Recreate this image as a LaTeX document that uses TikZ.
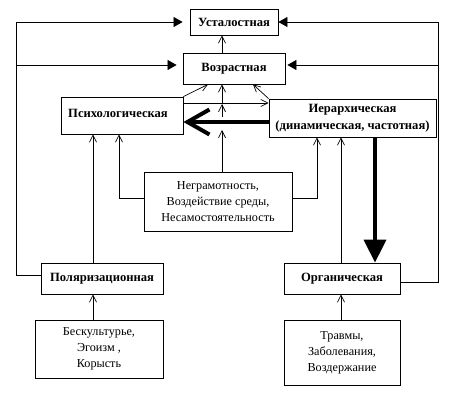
\documentclass[tikz,border=0pt]{standalone}
\usepackage{fontspec}
\setmainfont{Liberation Serif}
\usetikzlibrary{arrows.meta}
\begin{document}
\begin{tikzpicture}[x=1pt,y=-1pt,
  box/.style={draw, line width=0.8pt, inner sep=0pt, align=center, font=\fontsize{12.6}{17}\selectfont\bfseries},
  lst/.style={draw, line width=0.8pt, inner sep=0pt, align=center, font=\fontsize{12.2}{16}\selectfont},
  ln/.style={line width=0.7pt},
  arr/.style={ln, -{Straight Barb[length=7pt,width=7pt]}},
  tri/.style={ln, -{Triangle[length=9pt,width=10pt]}},
  thickarr/.style={line width=4pt, -{Straight Barb[length=22pt,width=25pt]}},
  thickdown/.style={line width=3.5pt, -{Triangle[length=23pt,width=22pt]}}
  ]
\useasboundingbox (0,0) rectangle (450,407);
% boxes
\node[box, minimum width=88pt, minimum height=26pt] (ust) at (234,22) {Усталостная};
\node[box, minimum width=102pt, minimum height=31pt] (voz) at (234,68.5) {Возрастная};
\node[box, minimum width=122pt, minimum height=37pt] (psy) at (122,115.5) {\raisebox{4pt}{Психологическая\hspace{8pt}}};
\node[box, minimum width=167pt, minimum height=38pt] (ier) at (352.5,118) {Иерархическая\\(динамическая, частотная)};
\node[lst, minimum width=148pt, minimum height=59pt] (neg) at (218,201.5) {Неграмотность,\\Воздействие среды,\\Несамостоятельность};
\node[box, minimum width=122pt, minimum height=31pt] (pol) at (102,278.5) {Поляризационная};
\node[box, minimum width=116pt, minimum height=31pt] (org) at (342,278.5) {Органическая};
\node[lst, minimum width=128pt, minimum height=58pt] (bes) at (99,349) {Бескультурье,\hspace{6pt}\\Эгоизм ,\hspace{12pt}\\Корысть\hspace{18pt}};
\node[lst, minimum width=116pt, minimum height=65pt] (tra) at (342,352.5) {Травмы,\\Заболевания,\\Воздержание};
% helper coordinates
\coordinate (LT) at (16,22); \coordinate (LM) at (16,65); \coordinate (LB) at (16,275);
\coordinate (RT) at (438,22); \coordinate (RM) at (438,65); \coordinate (RB) at (438,282);
\coordinate (xa) at (93,0); \coordinate (xb) at (119,0); \coordinate (xc) at (222,0);
\coordinate (xd) at (208,0); \coordinate (xe) at (253,0); \coordinate (xf) at (317,0);
\coordinate (xg) at (341,0); \coordinate (xh) at (375,0);
\coordinate (yh) at (0,103); \coordinate (yt) at (0,122); \coordinate (yn) at (0,198);
\coordinate (v1) at (222,130); \coordinate (v2) at (222,117); \coordinate (v3) at (222,104);
% outer lines
\draw[ln] (pol.west |- LB) -- (LB) -- (LT);
\draw[tri, shorten >=7pt] (LT) -- (ust.west);
\draw[tri, shorten >=6pt] (LM) -- (voz.west |- LM);
\draw[ln] (org.east |- RB) -- (RB) -- (RT);
\draw[tri] (RT) -- (ust.east);
\draw[tri, shorten >=2pt] (RM) -- (voz.east |- RM);
% central thin arrows
\draw[arr] (voz.north -| xc) -- (ust.south -| xc);
\draw[arr] (neg.north -| xc) -- (v1);
\draw[arr] (v2) -- (v3);
\draw[arr] (xc |- yh) -- (voz.south -| xc);
\draw[arr] (psy.north east) -- (voz.south -| xd);
\draw[arr] (ier.north west) -- (voz.south -| xe);
\draw[arr] (psy.east |- yh) -- (ier.west |- yh);
% thick arrows
\draw[thickarr] (ier.west |- yt) -- (psy.east |- yt);
\draw[thickdown] (ier.south -| xh) -- (org.north -| xh);
% side feeds
\draw[arr] (neg.west |- yn) -| (psy.south -| xb);
\draw[arr] (neg.east |- yn) -| (ier.south -| xf);
\draw[arr] (pol.north -| xa) -- (psy.south -| xa);
\draw[arr] (org.north -| xg) -- (ier.south -| xg);
\draw[arr] (bes.north -| xa) -- (pol.south -| xa);
\draw[arr] (tra.north -| xg) -- (org.south -| xg);
\end{tikzpicture}
\end{document}
